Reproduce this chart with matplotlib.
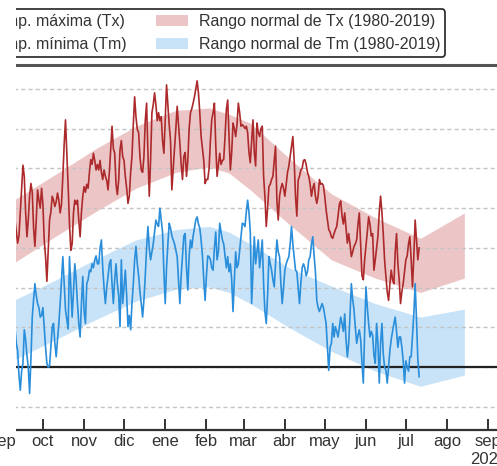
import numpy as np
import pandas as pd
import matplotlib
matplotlib.use("Agg")
import matplotlib.pyplot as plt
from matplotlib.patches import Rectangle, Patch
from matplotlib.lines import Line2D

plt.rcParams["font.family"] = ["Liberation Sans", "DejaVu Sans"]

# daily series, first day 2020-09-09
start_day = "2020-09-09"
tx = [
    19.8, 18.5, 17.0, 15.6, 16.5, 19.5, 22.5, 25.4, 24.0, 19.5,
    16.4, 18.5, 21.5, 23.1, 22.0, 17.5, 15.2, 18.5, 22.3, 21.0,
    20.0, 22.5, 20.5, 16.0, 13.9, 10.8, 14.5, 18.5, 19.5, 21.5,
    21.0, 20.2, 20.8, 21.9, 21.0, 19.4, 20.5, 24.0, 28.0, 31.1,
    27.0, 22.7, 18.0, 14.7, 15.5, 19.4, 21.0, 20.5, 21.0, 18.5,
    16.4, 19.5, 21.5, 22.7, 22.0, 23.0, 22.5, 24.5, 26.1, 25.5,
    26.9, 26.0, 24.8, 25.5, 24.8, 26.0, 24.5, 23.6, 24.8, 24.0,
    23.5, 22.3, 24.5, 27.5, 30.3, 27.5, 26.9, 23.0, 21.7, 23.5,
    27.3, 28.5, 26.5, 26.0, 24.0, 22.5, 20.6, 21.5, 24.5, 26.5,
    30.5, 34.0, 31.5, 29.9, 29.5, 26.5, 24.8, 24.5, 26.5, 31.0,
    33.2, 27.0, 21.5, 26.0, 32.0, 33.0, 34.5, 33.0, 31.0, 32.0,
    31.0, 31.5, 28.5, 26.9, 31.0, 35.5, 33.0, 30.5, 28.5, 22.3,
    25.0, 27.5, 30.0, 32.8, 30.5, 28.2, 25.5, 23.6, 26.5, 27.0,
    24.0, 26.0, 30.0, 32.0, 32.5, 33.2, 34.0, 35.0, 36.0, 34.5,
    32.0, 29.0, 27.5, 26.0, 23.1, 23.6, 23.6, 25.0, 28.5, 31.1,
    32.0, 33.2, 28.0, 24.0, 25.5, 26.9, 25.5, 26.0, 26.1, 29.0,
    32.4, 33.6, 29.0, 24.8, 27.0, 30.7, 30.0, 29.0, 30.5, 33.2,
    32.0, 30.3, 30.5, 30.3, 30.0, 30.3, 29.5, 27.0, 25.7, 28.5,
    31.1, 27.0, 25.3, 30.7, 29.5, 29.0, 30.0, 30.3, 24.0, 21.5,
    17.7, 20.0, 22.7, 23.0, 23.6, 24.0, 26.0, 27.8, 21.0, 18.5,
    21.5, 22.5, 23.1, 22.5, 21.5, 23.0, 24.5, 25.3, 26.5, 27.8,
    29.0, 26.0, 21.5, 19.0, 23.5, 24.0, 24.8, 25.0, 26.0, 26.1,
    25.5, 24.5, 24.0, 23.0, 21.5, 22.5, 23.1, 21.5, 20.6, 21.5,
    23.6, 23.0, 23.1, 22.8, 21.5, 19.8, 18.5, 17.3, 17.0, 16.4,
    16.2, 16.8, 17.3, 17.7, 19.0, 20.5, 20.9, 19.0, 18.0, 19.4,
    17.5, 15.6, 16.8, 15.5, 13.9, 14.5, 15.2, 15.5, 16.0, 18.0,
    19.4, 15.5, 11.5, 11.0, 13.5, 15.2, 17.0, 18.9, 18.0, 16.5,
    16.8, 12.2, 13.5, 15.0, 16.5, 19.5, 21.5, 19.5, 16.8, 13.5,
    11.4, 9.5, 8.4, 10.5, 12.2, 11.0, 10.5, 14.5, 16.8, 13.0,
    11.0, 8.0, 9.5, 10.5, 12.0, 13.5, 14.0, 15.5, 16.4, 13.5,
    10.1, 14.0, 18.5, 16.0, 13.5, 15.0,
]
tm = [
    6.3, 5.0, 3.0, 2.1, -1.0, -2.9, -0.5, 0.5, 4.7, 3.5,
    1.5, 0.0, -3.3, 1.0, 6.3, 8.5, 10.5, 9.0, 8.0, 7.5,
    6.3, 6.5, 7.5, 5.0, 2.5, 0.5, 0.0, 0.2, 2.5, 5.0,
    5.5, 3.0, 1.3, 3.5, 5.5, 8.0, 11.0, 13.9, 10.5, 7.2,
    6.0, 4.8, 13.9, 10.0, 6.3, 9.5, 13.0, 11.0, 8.0, 5.5,
    3.8, 8.0, 11.4, 7.0, 5.5, 10.5, 11.0, 12.2, 12.0, 13.0,
    12.5, 13.5, 14.0, 13.0, 13.0, 15.0, 16.0, 12.5, 10.0, 8.0,
    10.0, 11.4, 13.0, 13.5, 10.5, 8.0, 11.0, 13.0, 10.5, 9.0,
    5.1, 13.5, 8.0, 10.0, 12.2, 9.0, 5.1, 6.5, 4.7, 8.0,
    10.5, 13.5, 15.2, 13.0, 11.5, 9.5, 8.0, 6.3, 8.5, 11.5,
    15.0, 17.7, 15.0, 13.5, 14.5, 15.5, 17.0, 18.5, 18.0, 17.7,
    20.0, 18.5, 17.0, 12.0, 8.0, 12.5, 15.5, 18.1, 17.5, 16.5,
    16.0, 15.5, 14.7, 13.9, 11.0, 8.0, 11.5, 14.0, 16.5, 16.8,
    12.5, 9.7, 14.0, 16.0, 15.0, 16.5, 17.5, 18.5, 18.9, 18.0,
    17.5, 16.0, 14.0, 11.0, 8.4, 11.5, 14.0, 13.9, 13.5, 12.5,
    12.2, 15.0, 17.0, 13.5, 14.5, 18.1, 17.0, 16.0, 15.5, 14.0,
    12.5, 13.9, 12.0, 13.0, 11.0, 7.0, 11.0, 14.5, 12.5, 13.0,
    14.7, 16.5, 18.1, 18.0, 17.7, 19.5, 21.0, 19.5, 17.0, 8.0,
    12.0, 16.4, 13.0, 14.5, 16.0, 12.5, 14.0, 16.0, 10.5, 7.0,
    5.5, 9.0, 13.9, 13.0, 12.2, 11.0, 10.1, 13.0, 16.0, 14.5,
    13.9, 10.5, 8.0, 10.0, 12.2, 13.0, 13.5, 13.9, 15.5, 17.7,
    15.5, 13.9, 12.2, 12.0, 10.0, 8.0, 10.5, 12.5, 13.0, 12.5,
    11.5, 12.0, 13.5, 13.9, 15.5, 16.4, 14.0, 12.0, 8.4, 7.5,
    7.0, 7.5, 8.0, 7.5, 6.5, 5.5, 2.5, -0.4, 2.5, 3.0,
    5.5, 3.8, 5.1, 4.5, 3.8, 5.0, 6.3, 5.5, 4.5, 6.7,
    3.5, 1.3, 3.0, 6.5, 10.5, 8.5, 7.2, 5.0, 3.0, 4.0,
    4.7, 3.5, 0.5, -2.0, 4.5, 10.1, 7.5, 5.5, 3.8, 4.5,
    4.0, 1.5, 0.5, 5.5, 3.0, -2.0, 3.0, 5.5, 1.7, 0.0,
    -0.4, -2.0, 0.0, 2.1, 3.5, 4.5, 5.5, 6.3, 4.5, 2.5,
    3.8, 3.8, 2.5, 0.8, -2.0, 0.8, 0.0, -0.5, 1.3, 1.3,
    4.0, 6.7, 10.5, 6.0, 1.0, -1.2,
]

# normal ranges 1980-2019
band_dates = ["2020-09-09", "2020-10-11", "2020-11-10", "2020-12-10", "2021-01-09",
              "2021-02-03", "2021-02-18", "2021-03-06", "2021-04-04", "2021-05-06",
              "2021-06-08", "2021-07-12", "2021-08-14"]
tx_lo = [13.1, 16.5, 19.6, 22.5, 24.5, 25.2, 24.4, 22.3, 18.0, 13.5, 11.2, 9.4, 11.2]
tx_hi = [21.0, 24.3, 27.5, 30.3, 32.3, 32.6, 31.8, 30.7, 26.3, 21.8, 18.8, 16.2, 19.4]
tm_lo = [0.9, 3.5, 6.0, 8.3, 9.8, 10.1, 9.4, 8.0, 5.0, 2.0, -0.5, -2.4, -1.0]
tm_hi = [8.4, 11.0, 13.6, 16.0, 17.3, 17.7, 17.0, 15.5, 12.5, 10.2, 8.0, 6.3, 7.3]

month_starts = pd.date_range("2020-09-01", "2021-09-01", freq="MS")
month_labels = ["sep", "oct", "nov", "dic", "ene", "feb", "mar", "abr",
                "may", "jun", "jul", "ago", "sep\n2021"]

days = pd.date_range(start_day, periods=len(tx), freq="D")
bdays = pd.to_datetime(band_dates)

W, H = 497, 466
fig = plt.figure(figsize=(W / 100, H / 100), dpi=100)
ax = fig.add_axes([-6.3 / W, 36 / H, 513.2 / W, 365 / H])

c_tx_band = "#ecc6c6"
c_tm_band = "#c8e3f8"
c_tx = "#ad2a2c"
c_tm = "#2a8edb"

ax.fill_between(bdays, tx_lo, tx_hi, color=c_tx_band, lw=0, zorder=1)
ax.fill_between(bdays, tm_lo, tm_hi, color=c_tm_band, lw=0, zorder=1)
ax.plot(days, tx, color=c_tx, lw=1.2, zorder=3)
ax.plot(days, tm, color=c_tm, lw=1.2, zorder=3)

ax.axhline(0, color="#222222", lw=1.6, zorder=2)

ax.set_xlim(pd.Timestamp("2020-08-25"), pd.Timestamp("2021-09-15"))
ax.set_ylim(-7.9, 38.0)

ax.set_yticks(np.arange(-5, 40, 5))
ax.yaxis.grid(True, ls=(0, (3, 2.2)), color="#c4c4c4", lw=1.0, zorder=0)
ax.tick_params(axis="y", left=False, labelleft=False)

ax.set_xticks(month_starts)
ax.set_xticklabels(month_labels)
ax.tick_params(axis="x", direction="in", length=8, width=1.4, color="#333333",
               pad=3, labelsize=12, labelcolor="#333333")
ax.xaxis.grid(False)

for s in ["left", "right"]:
    ax.spines[s].set_visible(False)
ax.spines["top"].set_color("#555555")
ax.spines["top"].set_linewidth(2.2)
ax.spines["bottom"].set_color("#333333")
ax.spines["bottom"].set_linewidth(1.6)

handles = [
    Line2D([], [], color=c_tx, lw=1.5),
    Line2D([], [], color=c_tm, lw=1.5),
    Patch(facecolor=c_tx_band, edgecolor="none"),
    Patch(facecolor=c_tm_band, edgecolor="none"),
]
labels = ["Temp. máxima (Tx)", "Temp. mínima (Tm)",
          "Rango normal de Tx (1980-2019)", "Rango normal de Tm (1980-2019)"]
leg = fig.legend(handles, labels, ncol=2, loc="lower right",
                 bbox_to_anchor=(445 / W, 409 / H), bbox_transform=fig.transFigure,
                 borderaxespad=0, fontsize=11.5, frameon=True, fancybox=True,
                 framealpha=1, edgecolor="#222222", borderpad=0.3, labelspacing=0.5,
                 handlelength=2.0, handletextpad=0.7, columnspacing=1.8)
leg.get_frame().set_linewidth(1.2)
for t in leg.get_texts():
    t.set_color("#333333")

# left strip of the picture is blank
fig.patches.append(Rectangle((0, 34 / H), 16 / W, 1 - 34 / H, transform=fig.transFigure,
                             facecolor="white", edgecolor="none", zorder=20))

fig.savefig("out.png", dpi=100)
